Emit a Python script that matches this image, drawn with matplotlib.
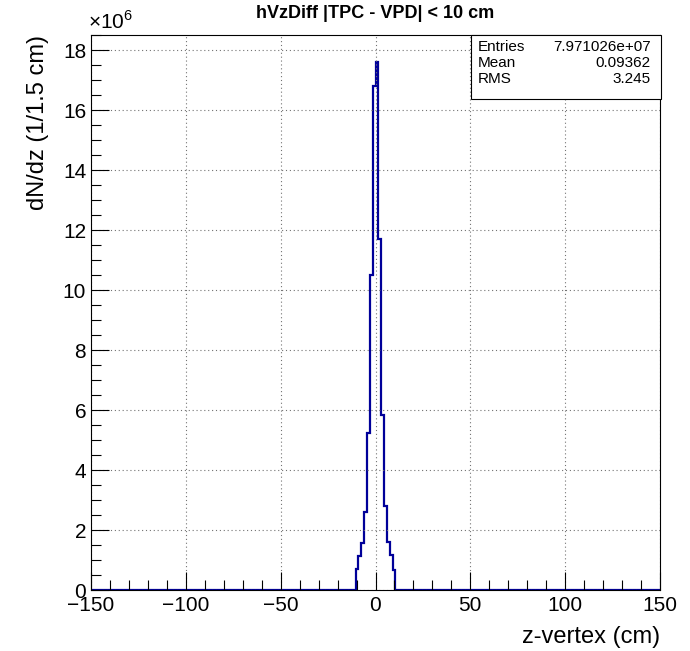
import numpy as np
from matplotlib import pyplot as plt
from matplotlib.patches import Rectangle

# histogram: 200 bins of 1.5 cm from -150 to 150, only the core is filled
x_lo, x_hi, n_bins = -150, 150, 200
core_first_edge = -10.5
core_counts = [0.69, 1.13, 1.56, 2.61, 5.22, 10.5, 16.8,
               17.6, 11.7, 5.83, 2.80, 1.59, 1.17, 0.67]  # x1e6

stat_names = ["Entries", "Mean", "RMS"]
stat_values = ["7.971026e+07", "0.09362", "3.245"]

edges = np.linspace(x_lo, x_hi, n_bins + 1)
counts = np.zeros(n_bins)
first = int(np.argmin(np.abs(edges - core_first_edge)))
counts[first:first + len(core_counts)] = core_counts

plt.rcParams['font.family'] = ['Liberation Sans', 'DejaVu Sans']
plt.rcParams['mathtext.fontset'] = 'custom'
plt.rcParams['mathtext.rm'] = 'Liberation Sans'

fig = plt.figure(figsize=(6.9, 6.51), dpi=100)
ax = fig.add_axes([91/690, 1 - 590/651, (660 - 91)/690, (590 - 35)/651])

ax.stairs(counts, edges, color="#000099", linewidth=1.6, baseline=None)

ax.set_xlim(x_lo, x_hi)
ax.set_ylim(0, 18.5)
ax.set_xticks(np.arange(-150, 151, 50))
ax.set_xticks(np.arange(-150, 151, 10), minor=True)
ax.set_yticks(np.arange(0, 19, 2))
ax.set_yticks(np.arange(0, 18.6, 0.5), minor=True)
ax.set_xticklabels([f"\u2212{abs(v)}" if v < 0 else str(v) for v in range(-150, 151, 50)])
ax.tick_params(which="major", direction="in", length=13, width=0.8, labelsize=15,
               top=False, right=False)
ax.tick_params(which="minor", direction="in", length=7, width=0.8, top=False, right=False)
ax.tick_params(axis="x", pad=4)
ax.grid(True, which="major", linestyle=(0, (1, 2.5)), color="0.45", linewidth=0.8)
for s in ax.spines.values():
    s.set_linewidth(0.8)

ax.set_xlabel("z-vertex (cm)", fontsize=17, loc="right", labelpad=8)
ax.set_ylabel("dN/dz (1/1.5 cm)", fontsize=17, loc="top", labelpad=10)
fig.text(88/690, 1 - 22/651, r"$\times10^{6}$", fontsize=15, va="center", ha="left")
fig.text(375/690, 1 - 14/651, "hVzDiff |TPC - VPD| < 10 cm", fontsize=13,
         fontweight="bold", ha="center", va="center")

# stats box
bx0, by0, bx1, by1 = 471/690, 1 - 99/651, 661/690, 1 - 35/651
fig.patches.append(Rectangle((bx0, by0), bx1 - bx0, by1 - by0, transform=fig.transFigure,
                             facecolor="white", edgecolor="black", linewidth=0.8, zorder=5))
for i, (name, val) in enumerate(zip(stat_names, stat_values)):
    yy = 1 - (47 + 16 * i)/651
    fig.text(478/690, yy, name, fontsize=11, va="center", ha="left", zorder=6)
    fig.text(651/690, yy, val, fontsize=11, va="center", ha="right", zorder=6)

fig.savefig("out.png", dpi=100)
